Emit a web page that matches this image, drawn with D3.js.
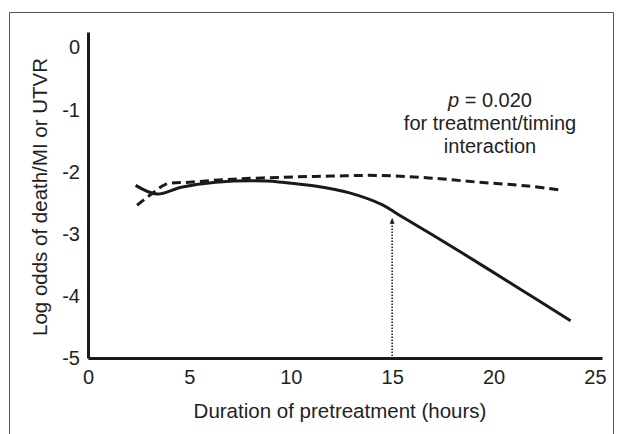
<!DOCTYPE html>
<html>
<head>
<meta charset="utf-8">
<script src="https://cdn.jsdelivr.net/npm/d3@7"></script>
<style>
  html, body { margin: 0; padding: 0; background: #fff; }
  svg { display: block; }
  text { font-family: "Liberation Sans", Arial, Helvetica, sans-serif; fill: #231f20; }
</style>
</head>
<body>
<svg id="chart" width="622" height="434"></svg>
<script>
// ---- data ----
const xTicks = [0, 5, 10, 15, 20, 25];
const yTicks = [0, -1, -2, -3, -4, -5];

// solid curve (hours, log odds)
const solidX = [2.35, 3.4, 4.6, 6.3, 8.8, 9.6, 11.2, 12.9, 14.5, 15.3, 17.0, 19.5, 21.7, 23.8];
const solidY = [-2.22, -2.36, -2.25, -2.17, -2.15, -2.17, -2.23, -2.34, -2.53, -2.69, -3.02, -3.52, -3.97, -4.40];

// dashed curve
const dashX = [2.42, 3.25, 3.85, 5.0, 7.1, 9.6, 12.0, 14.4, 16.8, 19.3, 21.7, 23.4];
const dashY = [-2.54, -2.33, -2.20, -2.17, -2.12, -2.09, -2.07, -2.06, -2.10, -2.17, -2.23, -2.30];

const arrowX = 15;
const arrowFrom = -5;
const arrowTo = -2.74;

const annotation = ["= 0.020", "for treatment/timing", "interaction"];
const xTitle = "Duration of pretreatment (hours)";
const yTitle = "Log odds of death/MI or UTVR";

// ---- drawing ----
const svg = d3.select("#chart");

// outer frame
svg.append("path")
  .attr("d", "M9.5,434 V12.5 H613.5 V434")
  .attr("fill", "none").attr("stroke", "#555").attr("stroke-width", 1);

const x = d3.scaleLinear().domain([0, 25.35]).range([88, 602]);
const y = d3.scaleLinear().domain([-5, 0.25]).range([358, 32]);

const xAxis = svg.append("g")
  .attr("transform", `translate(0,${y(-5)})`)
  .call(d3.axisBottom(x).tickValues(xTicks).tickSize(0).tickPadding(12).tickSizeOuter(0));
xAxis.select(".domain").attr("stroke", "#1a1a1a").attr("stroke-width", 3);
xAxis.selectAll("text").style("font-size", "20px").attr("fill", "#231f20");

const yAxis = svg.append("g")
  .attr("transform", `translate(${x(0)},0)`)
  .call(d3.axisLeft(y).tickValues(yTicks).tickSize(0).tickPadding(8).tickSizeOuter(0).tickFormat(d => String(d)));
yAxis.select(".domain").attr("stroke", "#1a1a1a").attr("stroke-width", 3);
yAxis.selectAll("text").style("font-size", "20px").attr("fill", "#231f20");

// titles
svg.append("text")
  .attr("x", 340).attr("y", 418)
  .attr("text-anchor", "middle").style("font-size", "20.5px")
  .text(xTitle);

svg.append("text")
  .attr("transform", `translate(47,197) rotate(-90)`)
  .attr("text-anchor", "middle").style("font-size", "20.5px")
  .text(yTitle);

// lines
const line = d3.line().x(d => x(d[0])).y(d => y(d[1])).curve(d3.curveCatmullRom.alpha(0.5));

svg.append("path")
  .datum(solidX.map((v, i) => [v, solidY[i]]))
  .attr("d", line)
  .attr("fill", "none").attr("stroke", "#1a1a1a").attr("stroke-width", 3);

svg.append("path")
  .datum(dashX.map((v, i) => [v, dashY[i]]))
  .attr("d", line)
  .attr("fill", "none").attr("stroke", "#1a1a1a").attr("stroke-width", 3)
  .attr("stroke-dasharray", "9,5");

// dotted arrow
svg.append("line")
  .attr("x1", x(arrowX)).attr("x2", x(arrowX))
  .attr("y1", y(arrowFrom) - 2).attr("y2", y(arrowTo) + 4)
  .attr("stroke", "#222").attr("stroke-width", 1.6).attr("stroke-dasharray", "1.5,1.5");
svg.append("path")
  .attr("d", `M${x(arrowX) - 2.5},${y(arrowTo) + 6} L${x(arrowX)},${y(arrowTo)} L${x(arrowX) + 2.5},${y(arrowTo) + 6} Z`)
  .attr("fill", "#222");

// annotation
const ann = svg.append("g").attr("transform", "translate(490,0)");
const t1 = ann.append("text").attr("y", 107).attr("text-anchor", "middle").style("font-size", "20px");
t1.append("tspan").style("font-style", "italic").text("p");
t1.append("tspan").text(" " + annotation[0]);
ann.append("text").attr("y", 130).attr("text-anchor", "middle").style("font-size", "20px").text(annotation[1]);
ann.append("text").attr("y", 153).attr("text-anchor", "middle").style("font-size", "20px").text(annotation[2]);
</script>
</body>
</html>
